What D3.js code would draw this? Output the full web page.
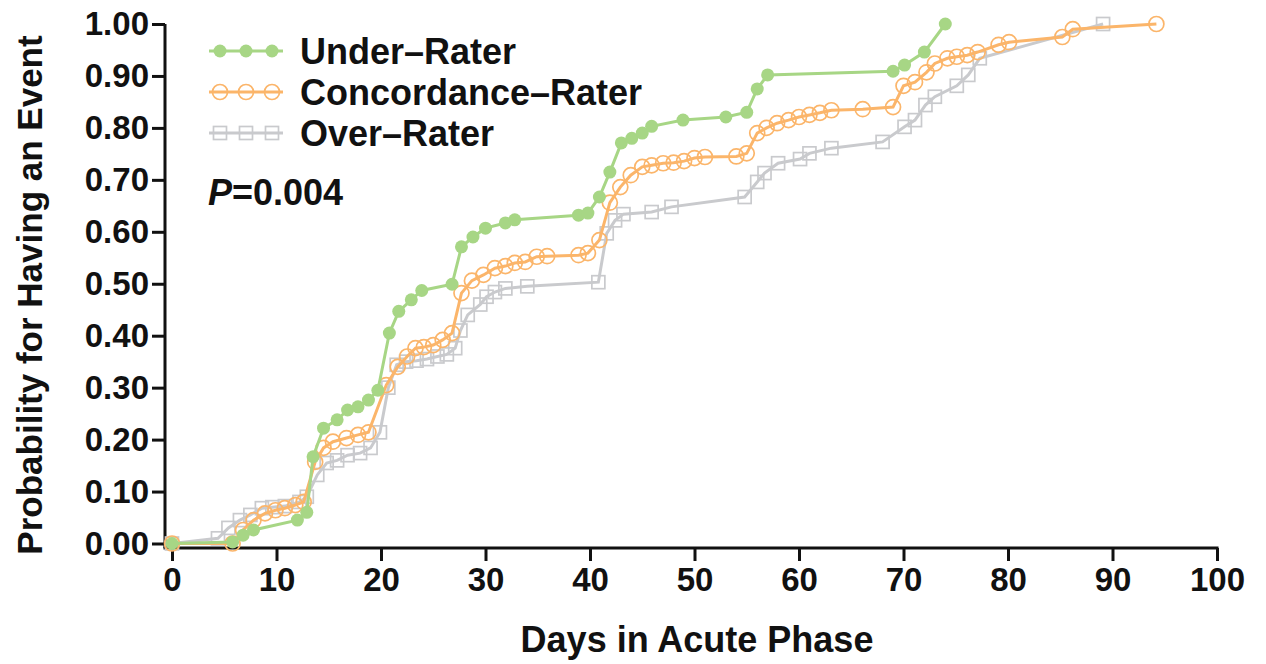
<!DOCTYPE html>
<html>
<head>
<meta charset="utf-8">
<script src="https://cdn.jsdelivr.net/npm/d3@7"></script>
<style>
  body { margin: 0; background: #fff; }
  svg text { font-family: "Liberation Sans", Arial, sans-serif; font-weight: bold; fill: #111; }
  .axis path, .axis line { stroke: #111; stroke-width: 3; }
  .axis text { font-size: 33px; }
</style>
</head>
<body>
<div id="chart"></div>
<script>
(function (d3) {
    'use strict';

    // Series (days, cumulative probability).
    var seriesNames = ['Under\u2013Rater', 'Concordance\u2013Rater', 'Over\u2013Rater'];

    var underDays = [0, 5.8, 6.8, 7.8, 12, 12.9, 13.5, 14.5, 15.8, 16.8, 17.8, 18.8, 19.7,
        20.8, 21.7, 22.9, 23.9, 26.8, 27.7, 28.8, 30, 31.9, 32.8,
        38.9, 39.8, 40.9, 41.9, 43, 44, 45, 45.9, 48.9, 53, 55, 56, 57,
        69, 70.1, 72, 74];
    var underProb = [0, 0.003, 0.016, 0.026, 0.045, 0.06, 0.167, 0.222, 0.238, 0.257, 0.263, 0.276, 0.295,
        0.405, 0.447, 0.469, 0.487, 0.499, 0.571, 0.59, 0.607, 0.617, 0.623,
        0.632, 0.636, 0.667, 0.715, 0.771, 0.78, 0.79, 0.803, 0.815, 0.821, 0.83, 0.875, 0.902,
        0.909, 0.921, 0.946, 1.0];

    var concDays = [0, 5.8, 6.8, 7.8, 8.9, 9.9, 10.8, 11.8, 12.6,
        13.7, 14.5, 15.4, 16.7, 17.8, 18.8,
        20.5, 21.6, 22.5, 23.3, 24.1, 25, 25.9, 26.8,
        27.7, 28.7, 29.8, 30.9, 31.9, 32.8, 33.8, 34.9, 35.9,
        38.9, 39.8, 40.9, 41.9, 42.9, 43.9, 45, 45.9, 47, 48, 49, 50, 51,
        54, 55, 56, 56.9, 57.9, 59, 60, 61, 62, 63.1, 66.1,
        69, 70, 71.1, 72.2, 73, 74.2, 75.1, 76.1, 77.1, 79.1, 80.1,
        85.2, 86.2, 94.2];
    var concProb = [0, 0, 0.026, 0.045, 0.058, 0.064, 0.068, 0.074, 0.08,
        0.157, 0.184, 0.196, 0.203, 0.209, 0.214,
        0.305, 0.34, 0.36, 0.376, 0.378, 0.382, 0.392, 0.405,
        0.482, 0.506, 0.517, 0.53, 0.534, 0.54, 0.542, 0.552, 0.553,
        0.555, 0.559, 0.584, 0.656, 0.686, 0.709, 0.725, 0.728, 0.732, 0.733, 0.736, 0.742, 0.744,
        0.745, 0.751, 0.79, 0.8, 0.809, 0.815, 0.821, 0.825, 0.829, 0.834, 0.836,
        0.84, 0.881, 0.888, 0.907, 0.924, 0.934, 0.937, 0.94, 0.946, 0.96, 0.965,
        0.975, 0.99, 1.0];

    var overDays = [0, 4.4, 5.4, 6.5, 7.5, 8.6, 9.6, 10.8, 12.2, 12.9,
        13.9, 14.8, 15.8, 16.8, 18, 19, 19.9,
        20.7, 21.5, 22.4, 23.4, 24.4, 25.4, 26.3, 27.1, 27.6, 28.3,
        29.5, 30.1, 30.9, 31.9, 34, 40.8,
        41.6, 42.4, 43.2, 45.9, 47.8, 54.8,
        56, 56.7, 58, 60.1, 61, 63.1, 68,
        70.1, 71.1, 72.1, 73, 75.1, 76.2, 77.3, 89.1];
    var overProb = [0, 0.01, 0.03, 0.045, 0.055, 0.068, 0.07, 0.072, 0.08, 0.09,
        0.132, 0.155, 0.16, 0.17, 0.174, 0.184, 0.214,
        0.3, 0.344, 0.35, 0.352, 0.355, 0.36, 0.364, 0.376, 0.41, 0.44,
        0.46, 0.475, 0.484, 0.491, 0.495, 0.503,
        0.597, 0.622, 0.634, 0.638, 0.648, 0.667,
        0.696, 0.713, 0.732, 0.74, 0.751, 0.761, 0.773,
        0.802, 0.815, 0.844, 0.86, 0.881, 0.902, 0.934, 1.0];

    var xTicks = [0, 10, 20, 30, 40, 50, 60, 70, 80, 90, 100];
    var yTicks = [0, 0.1, 0.2, 0.3, 0.4, 0.5, 0.6, 0.7, 0.8, 0.9, 1.0];

    var width = 1266;
    var height = 664;

    var x = d3.scaleLinear().domain([0, 100]).range([172, 1217]);
    var y = d3.scaleLinear().domain([0, 1]).range([543.5, 24]);

    var svg = d3.select('#chart').append('svg')
        .attr('width', width)
        .attr('height', height);

    function zip(days, probs) {
        return days.map(function (d, i) { return {day: d, p: probs[i]}; });
    }

    var series = [
        {name: seriesNames[2], data: zip(overDays, overProb), color: '#c9cacd', shape: 'square'},
        {name: seriesNames[1], data: zip(concDays, concProb), color: '#fbb56a', shape: 'ring'},
        {name: seriesNames[0], data: zip(underDays, underProb), color: '#a7d685', shape: 'dot'}
    ];

    // Axes, offset from the data origin like the original.
    var yAxis = svg.append('g')
        .attr('class', 'axis')
        .attr('transform', 'translate(165,0)')
        .call(d3.axisLeft(y).tickValues(yTicks).tickFormat(d3.format('.2f')).tickSize(13).tickPadding(3));
    yAxis.select('.domain').attr('d', 'M0,' + y(1) + 'V' + 548);

    var xAxis = svg.append('g')
        .attr('class', 'axis')
        .attr('transform', 'translate(0,548)')
        .call(d3.axisBottom(x).tickValues(xTicks).tickSize(13).tickPadding(4));
    xAxis.select('.domain').attr('d', 'M163.5,0H' + (x(100) + 1.5));
    xAxis.selectAll('text').attr('dy', '0.8em');

    var line = d3.line()
        .x(function (d) { return x(d.day); })
        .y(function (d) { return y(d.p); });

    function drawMarkers(g, pts, s) {
        if (s.shape === 'square') {
            g.selectAll('rect').data(pts).enter().append('rect')
                .attr('x', function (d) { return d[0] - 6.5; })
                .attr('y', function (d) { return d[1] - 6.5; })
                .attr('width', 13).attr('height', 13)
                .attr('fill', 'none')
                .attr('stroke', s.color).attr('stroke-width', 1.7);
        } else if (s.shape === 'ring') {
            g.selectAll('circle').data(pts).enter().append('circle')
                .attr('cx', function (d) { return d[0]; })
                .attr('cy', function (d) { return d[1]; })
                .attr('r', 7.5)
                .attr('fill', 'none')
                .attr('stroke', s.color).attr('stroke-width', 1.7);
        } else {
            g.selectAll('circle').data(pts).enter().append('circle')
                .attr('cx', function (d) { return d[0]; })
                .attr('cy', function (d) { return d[1]; })
                .attr('r', 6.5)
                .attr('fill', s.color);
        }
    }

    series.forEach(function (s) {
        var g = svg.append('g');
        g.append('path')
            .datum(s.data)
            .attr('d', line)
            .attr('fill', 'none')
            .attr('stroke', s.color)
            .attr('stroke-width', 3);
        drawMarkers(g, s.data.map(function (d) { return [x(d.day), y(d.p)]; }), s);
    });

    // Legend
    var legendOrder = [series[2], series[1], series[0]];
    legendOrder.forEach(function (s, i) {
        var ly = 51 + i * 41;
        var g = svg.append('g');
        g.append('line')
            .attr('x1', 209).attr('x2', 283)
            .attr('y1', ly).attr('y2', ly)
            .attr('stroke', s.color).attr('stroke-width', 3);
        drawMarkers(g, [[220, ly], [246, ly], [272, ly]], s);
        svg.append('text')
            .attr('x', 300).attr('y', ly + 13)
            .style('font-size', '36px')
            .text(s.name);
    });

    var ptxt = svg.append('text')
        .attr('x', 208).attr('y', 205)
        .style('font-size', '36px');
    ptxt.append('tspan').style('font-style', 'italic').text('P');
    ptxt.append('tspan').text('=0.004');

    // Axis titles
    svg.append('text')
        .attr('transform', 'translate(42,295) rotate(-90)')
        .attr('text-anchor', 'middle')
        .style('font-size', '35px')
        .text('Probability for Having an Event');

    svg.append('text')
        .attr('x', 697).attr('y', 652)
        .attr('text-anchor', 'middle')
        .style('font-size', '36px')
        .text('Days in Acute Phase');
})(d3);
</script>
</body>
</html>
